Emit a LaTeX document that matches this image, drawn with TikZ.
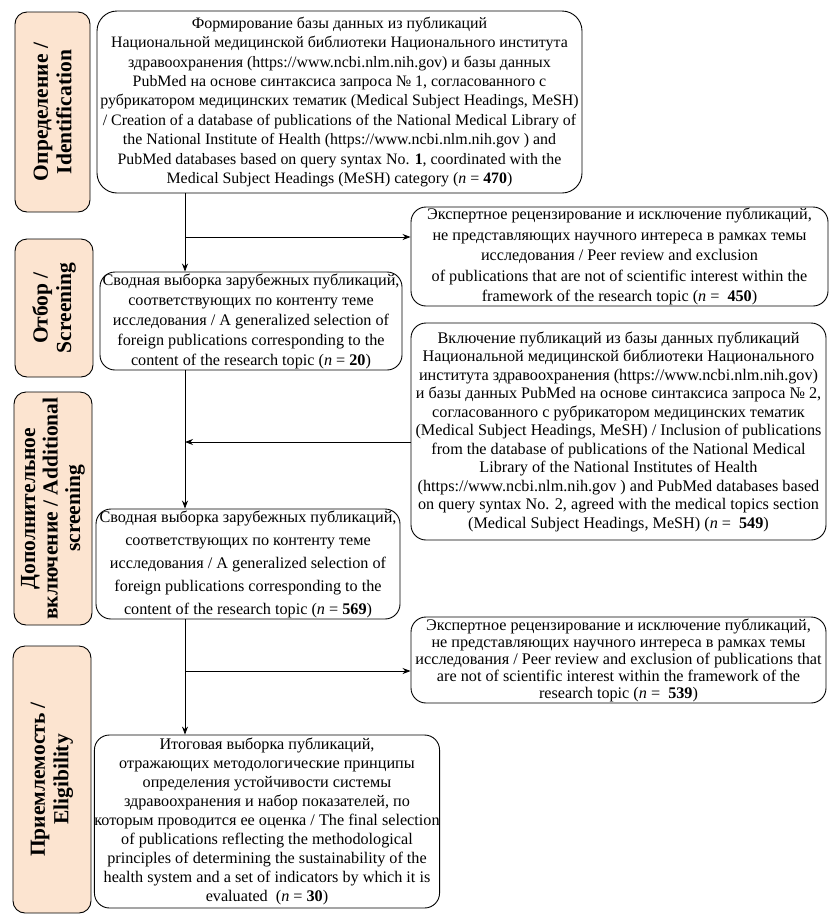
\documentclass[tikz,border=0pt]{standalone}
\usepackage{fontspec}
\setmainfont{Liberation Serif}
\usetikzlibrary{arrows.meta}
\definecolor{peach}{RGB}{252,228,208}
\newcommand{\bfs}[2]{\fontsize{#1}{#2}\selectfont}
\tikzset{
  box/.style={draw=black, line width=0.9pt, rounded corners=15pt, inner sep=0pt, align=center,
    font=\bfs{16.2}{20}},
  stage/.style={draw=black, line width=0.9pt, rounded corners=12pt, fill=peach, inner sep=0pt,
    align=center, rotate=90, font=\bfs{21.5}{23.5}\bfseries},
  link/.style={line width=0.8pt},
  arr/.style={line width=0.8pt, -{Stealth[length=8pt,width=6pt]}}
}
\begin{document}
\begin{tikzpicture}[x=1pt,y=-1pt]
\useasboundingbox (0,0) rectangle (830,919);

% stage labels
\node[stage, minimum width=200pt, minimum height=75pt] (L1) at (52.5,112) {Определение /\\Identification};
\node[stage, minimum width=138pt, minimum height=78pt] (L2) at (54,308) {Отбор /\\Screening};
\node[stage, minimum width=233pt, minimum height=78pt, font=\bfs{21.5}{22.5}\bfseries] (L3) at (53,508.5) {Дополнительное\\включение / Additional\\screening};
\node[stage, minimum width=267pt, minimum height=78pt] (L4) at (52,779.5) {Приемлемость /\\Eligibility};

% main boxes
\node[box, rounded corners=20pt, minimum width=485pt, minimum height=182pt, font=\bfs{15.9}{19.4}] (B1) at (339.5,102) {%
Формирование базы данных из публикаций\\
Национальной медицинской библиотеки Национального института\\
здравоохранения (https://www.ncbi.nlm.nih.gov) и базы данных\\
PubMed на основе синтаксиса запроса № 1, согласованного с\\
рубрикатором медицинских тематик (Medical Subject Headings, MeSH)\\
/ Creation of a database of publications of the National Medical Library of\\
the National Institute of Health (https://www.ncbi.nlm.nih.gov ) and\\
PubMed databases based on query syntax No. \textbf{1}, coordinated with the\\
Medical Subject Headings (MeSH) category (\textit{n} = \textbf{470})};

\node[box, minimum width=417pt, minimum height=99pt, font=\bfs{16.2}{20.5}] (B2) at (619.5,256.5) {%
Экспертное рецензирование и исключение публикаций,\\
не представляющих научного интереса в рамках темы\\
исследования / Peer review and exclusion\\
of publications that are not of scientific interest within the\\
framework of the research topic (\textit{n} = \ \textbf{450})};

\node[box, minimum width=302pt, minimum height=98pt, font=\bfs{16.2}{20}] (B3) at (251,321) {%
Сводная выборка зарубежных публикаций,\\
соответствующих по контенту теме\\
исследования / A generalized selection of\\
foreign publications corresponding to the\\
content of the research topic (\textit{n} = \textbf{20})};

\node[box, minimum width=415pt, minimum height=217pt, font=\bfs{16.2}{18.5}] (B4) at (618.5,431.5) {%
Включение публикаций из базы данных публикаций\\
Национальной медицинской библиотеки Национального\\
института здравоохранения (https://www.ncbi.nlm.nih.gov)\\
и базы данных PubMed на основе синтаксиса запроса № 2,\\
согласованного с рубрикатором медицинских тематик\\
(Medical Subject Headings, MeSH) / Inclusion of publications\\
from the database of publications of the National Medical\\
Library of the National Institutes of Health\\
(https://www.ncbi.nlm.nih.gov ) and PubMed databases based\\
on query syntax No. 2, agreed with the medical topics section\\
(Medical Subject Headings, MeSH) (\textit{n} = \ \textbf{549})};

\node[box, minimum width=304pt, minimum height=110pt, font=\bfs{16.2}{23}] (B5) at (248,564) {%
Сводная выборка зарубежных публикаций,\\
соответствующих по контенту теме\\
исследования / A generalized selection of\\
foreign publications corresponding to the\\
content of the research topic (\textit{n} = \textbf{569})};

\node[box, minimum width=415pt, minimum height=86pt, font=\bfs{16.2}{17}] (B6) at (618.5,660) {%
Экспертное рецензирование и исключение публикаций,\\
не представляющих научного интереса в рамках темы\\
исследования / Peer review and exclusion of publications that\\
are not of scientific interest within the framework of the\\
research topic (\textit{n} = \ \textbf{539})};

\node[box, minimum width=340pt, minimum height=173pt, font=\bfs{16.2}{19.1}] (B7) at (267,821.5) {%
Итоговая выборка публикаций,\\
отражающих методологические принципы\\
определения устойчивости системы\\
здравоохранения и набор показателей, по\\
которым проводится ее оценка / The final selection\\
of publications reflecting the methodological\\
principles of determining the sustainability of the\\
health system and a set of indicators by which it is\\
evaluated \ (\textit{n} = \textbf{30})};

% junctions on the trunk
\coordinate (j1) at (185,237);
\coordinate (j2) at (185,442);
\coordinate (j3) at (185,671);

\draw[link] (j1 |- B1.south) -- (j1);
\draw[arr] (j1) -- (j1 |- B3.north);
\draw[arr] (j1) -- (j1 -| B2.west);

\draw[arr] (j2 |- B3.south) -- (j2 |- B5.north);
\draw[arr] (j2 -| B4.west) -- (j2);

\draw[link] (j3 |- B5.south) -- (j3);
\draw[arr] (j3) -- (j3 |- B7.north);
\draw[arr] (j3) -- (j3 -| B6.west);
\end{tikzpicture}
\end{document}
